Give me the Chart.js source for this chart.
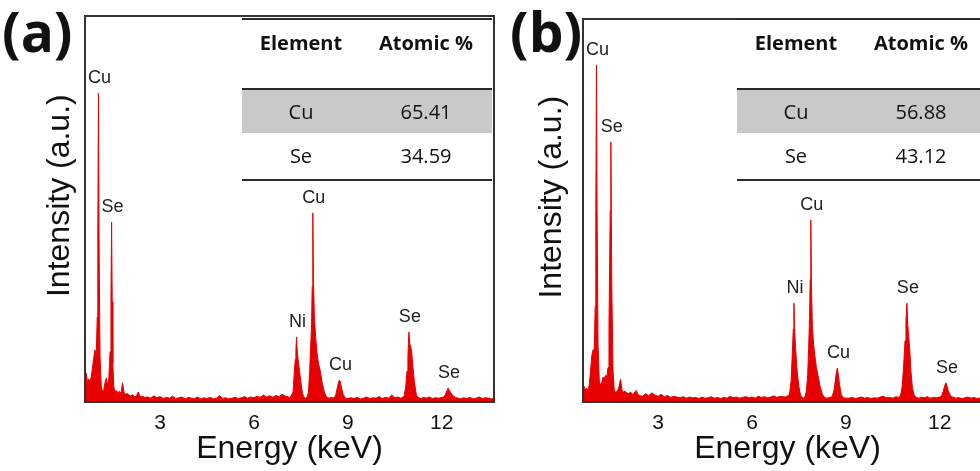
<!DOCTYPE html>
<html>
<head>
<meta charset="utf-8">
<script src="https://cdn.jsdelivr.net/npm/chart.js@4.4.1/dist/chart.umd.min.js"></script>
<style>
  body { margin: 0; background: #fff; }
  #wrap { position: relative; width: 980px; height: 471px; overflow: hidden; background: #fff; }
  .panel { position: absolute; top: 0; height: 471px; }
  .tag { position: absolute; top: 3px; font: bold 55px/1 "Open Sans", sans-serif; color: #111; }
  .inset { position: absolute; top: 18px; width: 250px; font-family: "Open Sans", sans-serif; font-size: 20px; color: #111;
           border-top: 2.5px solid #2b2b2b; border-bottom: 2px solid #2b2b2b; }
  .row { display: flex; box-sizing: border-box; }
  .row span { text-align: center; }
  .row span:first-child { width: 118px; }
  .row span:last-child { width: 132px; }
  .head { height: 70px; padding-top: 9px; line-height: 27px; font-weight: bold; border-bottom: 2px solid #2b2b2b; }
  .shade { height: 43px; line-height: 43px; background: #c9c9c9; }
  .plain { height: 45.5px; line-height: 45px; }
</style>
</head>
<body>
<div id="wrap">
  <div class="panel" style="left:0;width:500px">
    <canvas id="chartA" width="500" height="471"></canvas>
    <div class="tag" style="left:2px">(a)</div>
    <div class="inset" id="tableA" style="left:242px"></div>
  </div>
  <div class="panel" style="left:490px;width:510px">
    <canvas id="chartB" width="510" height="471"></canvas>
    <div class="tag" style="left:20px">(b)</div>
    <div class="inset" id="tableB" style="left:247px;width:260px"></div>
  </div>
</div>
<script>
// energy grid (keV), dense around the peaks
const energy = [
  0.6, 0.64, 0.68, 0.72, 0.76, 0.8, 0.84, 0.88, 0.92, 0.96,
  0.99, 1.01, 1.03, 1.05, 1.08, 1.12, 1.16, 1.2, 1.24, 1.28,
  1.32, 1.36, 1.4, 1.43, 1.45, 1.47, 1.49, 1.52, 1.56, 1.6,
  1.65, 1.7, 1.75, 1.8, 1.85, 1.9, 1.95, 2.0, 2.06, 2.12,
  2.18, 2.24, 2.3, 2.37, 2.44, 2.5,
  2.6, 2.7, 2.8, 2.9, 3.0, 3.1, 3.2, 3.3, 3.4, 3.5,
  3.6, 3.7, 3.8, 3.9, 4.0, 4.1, 4.2, 4.3, 4.4, 4.5,
  4.6, 4.7, 4.8, 4.9, 5.0, 5.1, 5.2, 5.3, 5.4, 5.5,
  5.6, 5.7, 5.8, 5.9, 6.0, 6.1, 6.2, 6.3, 6.4, 6.5,
  6.6, 6.7, 6.8, 6.9, 7.0,
  7.08, 7.14, 7.2, 7.25, 7.29, 7.32, 7.34, 7.36, 7.38, 7.41,
  7.45, 7.5, 7.55, 7.6, 7.65, 7.7, 7.74, 7.78, 7.81, 7.84,
  7.86, 7.88, 7.9, 7.93, 7.97, 8.01, 8.06, 8.12, 8.18, 8.25,
  8.32, 8.4, 8.48, 8.56, 8.62, 8.67, 8.7, 8.73, 8.76, 8.8,
  8.85, 8.92, 9.0,
  9.1, 9.2, 9.3, 9.4, 9.5, 9.6, 9.7, 9.8, 9.9, 10.0,
  10.1, 10.2, 10.3, 10.4, 10.5, 10.6,
  10.68, 10.75, 10.8, 10.85, 10.89, 10.92, 10.95, 10.98, 11.01, 11.04,
  11.08, 11.13, 11.19, 11.26, 11.34, 11.42, 11.5, 11.6, 11.7, 11.8,
  11.9, 12.0, 12.06, 12.11, 12.15, 12.18, 12.2, 12.23, 12.27, 12.32,
  12.38, 12.45, 12.53, 12.6, 12.7, 12.8, 12.9, 13.0, 13.1, 13.2,
  13.3, 13.4, 13.5, 13.6, 13.67
];

// intensity, panel (a)
const countsA = [
  6.5, 7.5, 5.0, 6.0, 5.2, 6.5, 9.0, 11.5, 13.5, 12.0,
  22.0, 45.0, 80.0, 40.0, 12.0, 4.0, 2.6, 3.2, 5.0, 6.2,
  4.5, 6.0, 13.0, 28.0, 46.6, 26.0, 10.0, 4.0, 2.5, 3.0,
  2.4, 2.8, 2.2, 5.0, 2.4, 2.0, 2.2, 1.8, 1.6, 1.9,
  1.4, 1.5, 2.6, 1.3, 1.5, 1.2,
  1.3, 1.0, 1.6, 1.1, 1.4, 0.9, 1.2, 1.0, 1.5, 0.9,
  1.1, 1.3, 0.8, 1.2, 1.0, 0.9, 1.3, 0.8, 1.1, 0.9,
  1.2, 0.8, 1.0, 1.7, 0.9, 1.1, 0.8, 1.0, 1.2, 0.9,
  1.1, 1.4, 1.0, 1.3, 1.1, 1.5, 1.2, 1.8, 1.3, 1.6,
  1.2, 1.7, 1.4, 2.0, 1.5,
  1.4, 1.1, 1.8, 2.6, 8.0, 11.0, 13.5, 16.8, 13.5, 11.0,
  8.5, 5.0, 2.2, 1.2, 1.0, 1.3, 2.5, 8.0, 14.0, 20.0,
  30.0, 49.0, 32.0, 22.0, 17.0, 13.0, 10.0, 8.0, 5.0, 2.5,
  1.3, 1.0, 1.2, 1.0, 2.0, 4.0, 5.0, 5.7, 5.2, 3.5,
  2.0, 1.0, 0.9,
  1.1, 0.9, 1.2, 0.8, 1.0, 1.3, 0.9, 1.1, 1.0, 1.4,
  0.9, 1.2, 1.0, 1.8, 1.1, 1.3,
  1.0, 1.2, 1.6, 4.0, 8.0, 12.0, 18.1, 15.0, 14.3, 13.0,
  9.0, 5.0, 1.8, 1.1, 0.9, 1.2, 1.0, 1.3, 0.9, 1.1,
  1.0, 1.2, 1.3, 1.8, 2.6, 3.2, 3.6, 3.2, 2.6, 2.0,
  1.5, 1.1, 1.0, 0.8, 1.1, 0.9, 1.2, 0.8, 1.0, 1.3,
  0.9, 1.1, 1.0, 0.8, 1.0
];

// intensity, panel (b)
const countsB = [
  4.4, 4.0, 3.2, 3.6, 3.0, 4.5, 8.0, 12.0, 13.6, 14.0,
  25.0, 50.0, 88.0, 50.0, 15.0, 5.5, 4.5, 5.0, 6.5, 6.0,
  7.0, 6.5, 9.0, 20.0, 35.0, 50.0, 67.9, 30.0, 8.0, 3.0,
  2.6, 2.8, 4.0, 6.0, 3.0, 2.6, 2.8, 2.4, 2.2, 2.6,
  2.0, 2.4, 3.0, 1.8, 1.6, 1.5,
  2.2, 1.6, 2.4, 1.8, 1.5, 2.0, 1.4, 1.7, 1.2, 1.5,
  1.3, 1.1, 1.4, 1.0, 1.3, 1.1, 1.2, 0.9, 1.3, 1.0,
  1.1, 1.4, 1.0, 1.2, 0.9, 1.2, 1.0, 1.5, 1.1, 1.3,
  1.0, 1.2, 1.4, 1.1, 1.3, 1.0, 1.5, 1.2, 1.4, 1.1,
  1.3, 1.6, 1.2, 1.5, 1.4,
  1.3, 1.6, 2.0, 5.5, 13.0, 19.0, 25.8, 20.0, 16.0, 12.0,
  7.5, 4.0, 1.8, 1.2, 1.0, 1.5, 3.0, 7.0, 14.0, 22.0,
  32.0, 47.5, 30.0, 20.0, 15.0, 12.0, 9.0, 6.5, 4.0, 2.0,
  1.2, 1.0, 1.2, 1.4, 3.0, 6.0, 8.0, 8.9, 7.0, 4.5,
  2.0, 1.1, 1.0,
  1.0, 1.2, 0.9, 1.1, 1.3, 1.0, 1.2, 0.9, 1.1, 1.0,
  1.3, 1.5, 1.1, 1.2, 1.0, 1.4,
  1.2, 1.8, 4.0, 10.0, 16.0, 21.0, 25.8, 20.0, 17.0, 14.0,
  8.0, 3.5, 1.6, 1.2, 1.0, 1.3, 1.1, 1.4, 1.0, 1.2,
  1.1, 1.3, 1.6, 2.8, 4.0, 4.8, 5.0, 4.2, 3.0, 2.0,
  1.4, 1.2, 1.0, 1.2, 0.9, 1.1, 1.3, 1.0, 1.2, 0.9,
  1.1, 1.0, 1.2, 0.9, 1.1
];

const tickValues = [3, 6, 9, 12];
const peakNames = ["Cu", "Se", "Ni", "Cu", "Cu", "Se", "Se"];
const peakEnergy = [1.03, 1.47, 7.36, 7.88, 8.73, 10.95, 12.2];

const elements = ["Cu", "Se"];
const atomicA = ["65.41", "34.59"];
const atomicB = ["56.88", "43.12"];

function buildTable(id, values) {
  let html = '<div class="row head"><span>Element</span><span>Atomic %</span></div>';
  elements.forEach((el, i) => {
    html += '<div class="row ' + (i === 0 ? 'shade' : 'plain') + '"><span>' + el + '</span><span>' + values[i] + '</span></div>';
  });
  document.getElementById(id).innerHTML = html;
}
buildTable("tableA", atomicA);
buildTable("tableB", atomicB);

const frame = {
  id: "frame",
  afterDraw(chart) {
    const { ctx, chartArea: a } = chart;
    ctx.save();
    ctx.strokeStyle = "#333";
    ctx.lineWidth = 2;
    ctx.strokeRect(a.left, a.top, a.right - a.left, a.bottom - a.top);
    ctx.restore();
  }
};

const peakLabels = {
  id: "peakLabels",
  afterDatasetsDraw(chart) {
    const ctx = chart.ctx;
    const xs = chart.scales.x, ys = chart.scales.y;
    const pts = chart.data.datasets[0].data;
    ctx.save();
    ctx.font = '18px "Liberation Sans", Arial, sans-serif';
    ctx.fillStyle = "#222";
    ctx.textAlign = "center";
    ctx.textBaseline = "middle";
    peakNames.forEach((name, i) => {
      let best = null;
      pts.forEach(p => {
        if (Math.abs(p.x - peakEnergy[i]) <= 0.05 && (!best || p.y > best.y)) best = p;
      });
      ctx.fillText(name, xs.getPixelForValue(best.x) + 1, ys.getPixelForValue(best.y) - 15);
    });
    ctx.restore();
  }
};

const axisFont = { family: '"Liberation Sans", Arial, sans-serif', size: 32 };

function spectrum(id, counts, padTop, padRight, axisWidth, titlePad) {
  return new Chart(document.getElementById(id), {
    type: "line",
    data: {
      datasets: [{
        data: energy.map((e, i) => ({ x: e, y: counts[i] })),
        borderColor: "rgb(232,0,0)",
        backgroundColor: "rgb(232,0,0)",
        borderWidth: 1,
        pointRadius: 0,
        fill: "origin",
        tension: 0
      }]
    },
    options: {
      responsive: false,
      animation: false,
      devicePixelRatio: 1,
      layout: { padding: { top: padTop, right: padRight, left: 0, bottom: 0 } },
      plugins: { legend: { display: false }, tooltip: { enabled: false } },
      scales: {
        x: {
          type: "linear",
          min: 0.6,
          max: 13.67,
          afterBuildTicks: s => { s.ticks = tickValues.map(v => ({ value: v })); },
          afterFit: s => { s.height = 69; },
          grid: { display: false },
          border: { display: false },
          ticks: { color: "#111", padding: 1, maxRotation: 0, autoSkip: false,
                   font: { family: '"Liberation Sans", Arial, sans-serif', size: 21 } },
          title: { display: true, text: "Energy (keV)", color: "#111", font: axisFont,
                   padding: { top: 0, bottom: 3 } }
        },
        y: {
          min: 0,
          max: 100,
          afterFit: s => { s.width = axisWidth; },
          grid: { display: false },
          border: { display: false },
          ticks: { display: false },
          // leading spaces lift the rotated title a little above the plot centre
          title: { display: true, text: "   Intensity (a.u.)", color: "#111", font: axisFont,
                   padding: { top: titlePad, bottom: 0 } }
        }
      }
    },
    plugins: [frame, peakLabels]
  });
}

spectrum("chartA", countsA, 16, 6, 85, 41);
spectrum("chartB", countsB, 19, 8, 93, 43);
</script>
</body>
</html>
